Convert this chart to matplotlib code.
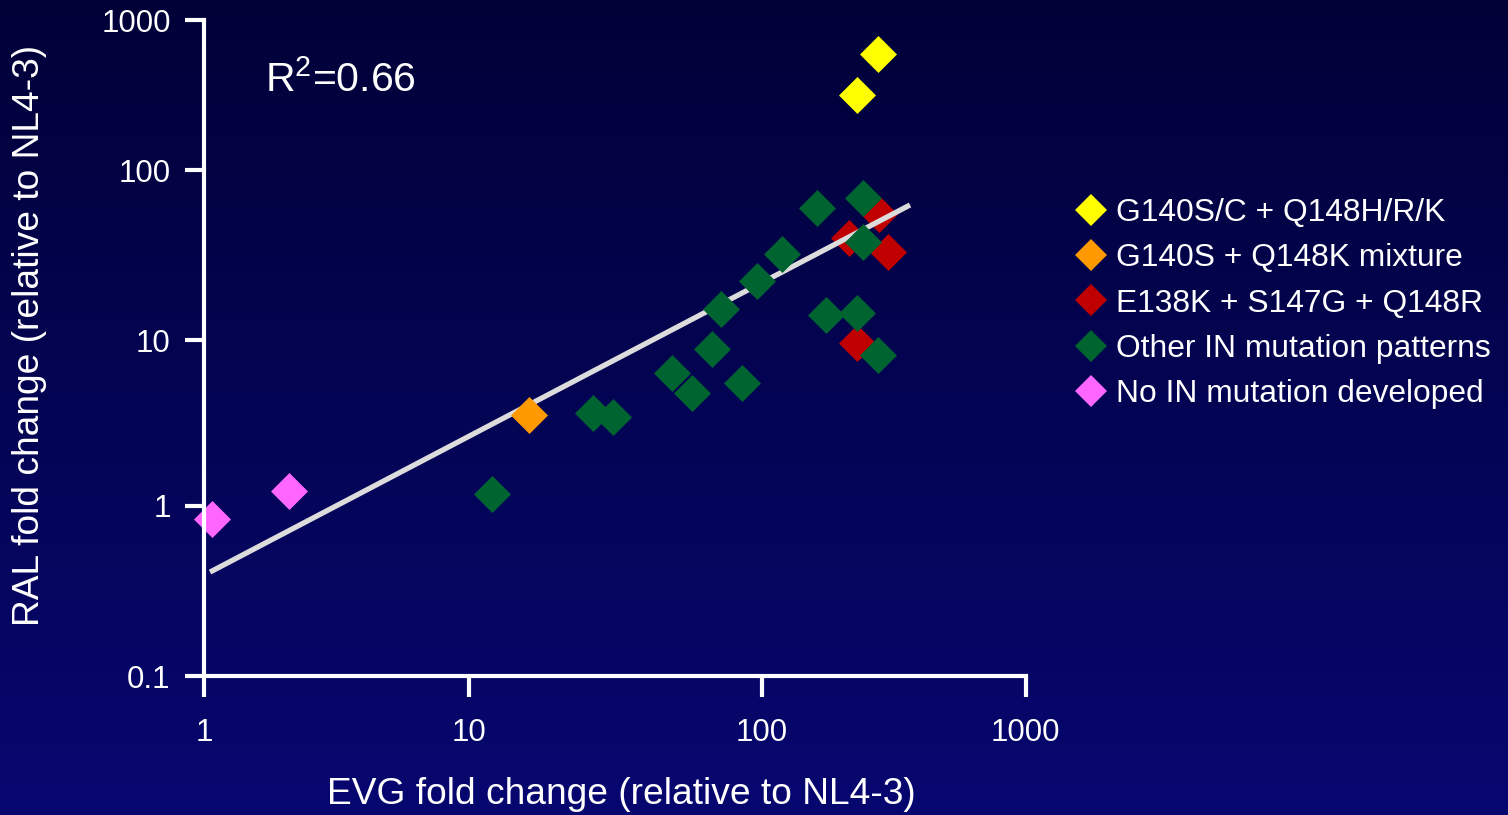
import numpy as np
import matplotlib
matplotlib.use("Agg")
import matplotlib.pyplot as plt
from matplotlib.lines import Line2D

plt.rcParams['font.family'] = ['Liberation Sans', 'DejaVu Sans']
plt.rcParams['mathtext.fontset'] = 'custom'
plt.rcParams['mathtext.rm'] = 'Liberation Sans'
plt.rcParams['mathtext.it'] = 'Liberation Sans'
plt.rcParams['mathtext.default'] = 'regular'

# ---- data (EVG fold change, RAL fold change) ----
yellow_x = [275.5, 229.5]
yellow_y = [597.0, 317.6]
orange_x = [16.1]
orange_y = [3.51]
red_x = [278.6, 214.5, 301.5, 229.5]
red_y = [55.4, 40.0, 33.05, 9.59]
green_x = [161.9, 242.3, 242.3, 119.3, 96.5, 72.7, 67.6, 49.6, 58.0, 85.6,
           175.1, 230.7, 275.5, 26.7, 31.2, 12.0]
green_y = [60.3, 68.8, 38.0, 32.2, 22.4, 15.2, 8.82, 6.32, 4.78, 5.52,
           14.05, 14.5, 8.12, 3.61, 3.44, 1.18]
pink_x = [1.069, 2.09]
pink_y = [0.833, 1.22]
fit_x = [1.054, 365.2]
fit_y = [0.407, 62.6]

labels = ["G140S/C + Q148H/R/K", "G140S + Q148K mixture", "E138K + S147G + Q148R",
          "Other IN mutation patterns", "No IN mutation developed"]
colors = ["#ffff00", "#ff9900", "#c00000", "#006430", "#ff66ff"]
xticks = [1, 10, 100, 1000]
xticklabels = ["1", "10", "100", "1000"]
yticks = [0.1, 1, 10, 100, 1000]
yticklabels = ["0.1", "1", "10", "100", "1000"]
r2_text = r"R$^{2}$=0.66"
xlabel = "EVG fold change (relative to NL4-3)"
ylabel = "RAL fold change (relative to NL4-3)"

# the original axes are logarithmic but the decades are not drawn equally wide;
# tick positions (fraction of axis length) per decade, as measured
x_decade_pos = [0.0, 264.5 / 821.5, 557.5 / 821.5, 1.0]
y_decade_pos = [0.0, 170.5 / 656.0, 336.0 / 656.0, 505.5 / 656.0, 1.0]


def make_scale(logs, pos):
    logs = np.asarray(logs, float)
    pos = np.asarray(pos, float)
    s0 = (pos[1] - pos[0]) / (logs[1] - logs[0])
    s1 = (pos[-1] - pos[-2]) / (logs[-1] - logs[-2])
    L = np.concatenate([[logs[0] - 50], logs, [logs[-1] + 50]])
    P = np.concatenate([[pos[0] - 50 * s0], pos, [pos[-1] + 50 * s1]])

    def fwd(v):
        v = np.asarray(v, float)
        lv = np.log10(np.where(v > 0, v, 1e-300))
        return np.interp(lv, L, P)

    def inv(p):
        p = np.asarray(p, float)
        return 10 ** np.interp(p, P, L)
    return fwd, inv


W, H, DPI = 1508, 815, 100
fig = plt.figure(figsize=(W / DPI, H / DPI), dpi=DPI)

# background gradient
bg = fig.add_axes([0, 0, 1, 1], zorder=-10)
top = np.array([1, 1, 56]) / 255
bot = np.array([7, 7, 112]) / 255
t = np.linspace(0, 1, 256)[:, None]
grad = (top[None, :] * (1 - t) + bot[None, :] * t)[:, None, :]
bg.imshow(grad, aspect='auto', extent=[0, 1, 0, 1], origin='upper')
bg.set_axis_off()

ax = fig.add_axes([204 / W, 1 - 676 / H, 821.5 / W, 656 / H])
ax.patch.set_alpha(0)
ax.set_xscale('function', functions=make_scale([0, 1, 2, 3], x_decade_pos))
ax.set_yscale('function', functions=make_scale([-1, 0, 1, 2, 3], y_decade_pos))
ax.set_xlim(1, 1000)
ax.set_ylim(0.1, 1000)

ms = 355
ax.scatter(red_x, red_y, marker='D', s=ms, color=colors[2], linewidths=0, zorder=1.2, clip_on=False)
ax.plot(fit_x, fit_y, color='#dcdcdc', lw=3.8, solid_capstyle='butt', zorder=1.5)
ax.scatter(green_x, green_y, marker='D', s=ms, color=colors[3], linewidths=0, zorder=1.8, clip_on=False)
ax.scatter(orange_x, orange_y, marker='D', s=ms, color=colors[1], linewidths=0, zorder=1.8, clip_on=False)
ax.scatter(pink_x, pink_y, marker='D', s=ms, color=colors[4], linewidths=0, zorder=1.8, clip_on=False)
ax.scatter(yellow_x, yellow_y, marker='D', s=ms, color=colors[0], linewidths=0, zorder=1.8, clip_on=False)

for side in ['top', 'right']:
    ax.spines[side].set_visible(False)
for side in ['left', 'bottom']:
    ax.spines[side].set_color('white')
    ax.spines[side].set_linewidth(3)
    ax.spines[side].set_zorder(3)

ax.set_xticks(xticks)
ax.set_xticklabels(xticklabels)
ax.set_yticks(yticks)
ax.set_yticklabels(yticklabels)
ax.minorticks_off()
ax.tick_params(axis='x', colors='white', length=15, width=3, pad=15, labelsize=22.5, direction='out')
ax.tick_params(axis='y', colors='white', length=14, width=3, pad=10, labelsize=22.5, direction='out')
for lab in ax.get_xticklabels() + ax.get_yticklabels():
    lab.set_color('white')

fig.text(621 / W, 1 - 794 / H, xlabel, color='white', fontsize=26.7, ha='center', va='center')
fig.text(30 / W, 1 - 335 / H, ylabel, color='white', fontsize=26.7, ha='center', va='center', rotation=90)
fig.text(265 / W, 1 - 80 / H, r2_text, color='white', fontsize=29.5, ha='left', va='center')

handles = [Line2D([], [], marker='D', ls='none', markersize=16.5, color=c, markeredgewidth=0) for c in colors]
fig.legend(handles, labels, loc='upper left', bbox_to_anchor=(1075 / W, 1 - 198 / H),
           frameon=False, fontsize=22.9, labelcolor='white', handletextpad=0.3,
           labelspacing=0.48, handlelength=1.0, borderpad=0, borderaxespad=0)

fig.savefig('out.png', dpi=DPI)
